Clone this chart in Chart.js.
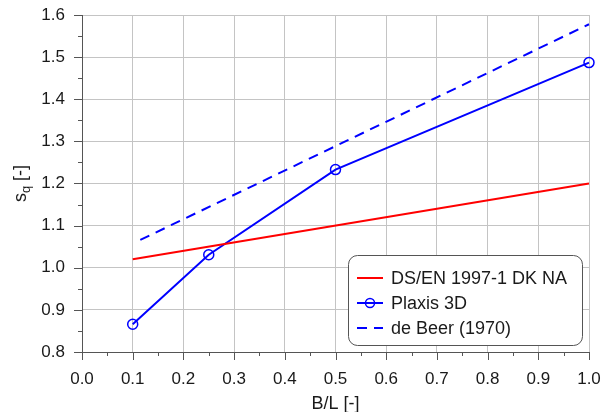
<!DOCTYPE html>
<html>
<head>
<meta charset="utf-8">
<script src="https://cdn.jsdelivr.net/npm/chart.js@4"></script>
<style>
  html, body { margin: 0; padding: 0; background: #fff; }
  #wrap { width: 612px; height: 412px; }
</style>
</head>
<body>
<div id="wrap"><canvas id="chart" width="612" height="412"></canvas></div>
<script>
// shape factor s_q against B/L
const dsenBL = [0.1, 1.0];
const dsenSq = [1.02, 1.2];

const plaxisBL = [0.1, 0.25, 0.5, 1.0];
const plaxisSq = [0.866, 1.031, 1.233, 1.487];

const deBeerBL = [0.115, 1.0];
const deBeerSq = [1.066, 1.578];

const seriesNames = ['DS/EN 1997-1 DK NA', 'Plaxis 3D', 'de Beer (1970)'];

const FONT = '"Liberation Sans", Arial, sans-serif';
const AXIS_COLOR = '#555';

function pts(xs, ys) {
  return xs.map((x, i) => ({x: x, y: ys[i]}));
}

// fixed axis box, no extra room for label overflow
function fixBox(s, prop, size) {
  s[prop] = size;
  s.paddingLeft = s.paddingRight = s.paddingTop = s.paddingBottom = 0;
}

// axis lines, major + minor ticks, y title with subscript, legend box
const decor = {
  id: 'decor',
  afterDraw(chart) {
    const ctx = chart.ctx;
    const a = chart.chartArea;
    const xs = chart.scales.x, ys = chart.scales.y;
    ctx.save();
    ctx.strokeStyle = AXIS_COLOR;
    ctx.lineWidth = 1;
    ctx.beginPath();
    ctx.moveTo(a.left + 0.5, a.top);
    ctx.lineTo(a.left + 0.5, a.bottom + 0.5);
    ctx.lineTo(a.right, a.bottom + 0.5);
    for (let i = 0; i <= 20; i++) {
      const len = i % 2 === 0 ? 8 : 4;
      const px = Math.round(xs.getPixelForValue(i * 0.05)) + 0.5;
      ctx.moveTo(px, a.bottom);
      ctx.lineTo(px, a.bottom + len);
    }
    for (let i = 0; i <= 16; i++) {
      const len = i % 2 === 0 ? 8 : 4;
      const py = Math.round(ys.getPixelForValue(0.8 + i * 0.05)) + 0.5;
      ctx.moveTo(a.left, py);
      ctx.lineTo(a.left - len, py);
    }
    ctx.stroke();

    // y title: s_q [-]
    ctx.fillStyle = '#1a1a1a';
    ctx.textBaseline = 'middle';
    ctx.translate(21, (a.top + a.bottom) / 2);
    ctx.rotate(-Math.PI / 2);
    const big = '18px ' + FONT, small = '13px ' + FONT;
    ctx.font = big;
    const w1 = ctx.measureText('s').width;
    const w3 = ctx.measureText(' [-]').width;
    ctx.font = small;
    const w2 = ctx.measureText('q').width;
    let x0 = -(w1 + w2 + w3) / 2;
    ctx.textAlign = 'left';
    ctx.font = big;
    ctx.fillText('s', x0, 0);
    ctx.font = small;
    ctx.fillText('q', x0 + w1, 5);
    ctx.font = big;
    ctx.fillText(' [-]', x0 + w1 + w2, 0);
    ctx.restore();

    // legend
    ctx.save();
    const bx = 348.5, by = 255.5, bw = 234, bh = 90, r = 9;
    ctx.beginPath();
    ctx.roundRect(bx, by, bw, bh, r);
    ctx.fillStyle = '#fff';
    ctx.fill();
    ctx.strokeStyle = AXIS_COLOR;
    ctx.lineWidth = 1;
    ctx.stroke();
    ctx.font = '18px ' + FONT;
    ctx.textBaseline = 'middle';
    ctx.fillStyle = '#1a1a1a';
    chart.data.datasets.forEach((d, i) => {
      const y = 278 + i * 25;
      ctx.strokeStyle = d.borderColor;
      ctx.lineWidth = 2;
      ctx.setLineDash(d.borderDash || []);
      ctx.beginPath();
      ctx.moveTo(357, y);
      ctx.lineTo(383, y);
      ctx.stroke();
      ctx.setLineDash([]);
      if (d.pointRadius) {
        ctx.lineWidth = 1.5;
        ctx.beginPath();
        ctx.arc(370, y, 4.5, 0, Math.PI * 2);
        ctx.stroke();
      }
      ctx.fillText(d.label, 391, y + 1);
    });
    ctx.restore();
  }
};

new Chart(document.getElementById('chart'), {
  type: 'line',
  data: {
    datasets: [
      {
        label: seriesNames[0],
        data: pts(dsenBL, dsenSq),
        borderColor: 'rgb(255,0,0)',
        borderWidth: 2,
        pointRadius: 0,
        clip: false
      },
      {
        label: seriesNames[1],
        data: pts(plaxisBL, plaxisSq),
        borderColor: 'rgb(0,0,255)',
        borderWidth: 2,
        pointRadius: 5,
        pointBorderWidth: 1.5,
        pointBackgroundColor: 'rgba(0,0,0,0)',
        pointBorderColor: 'rgb(0,0,255)',
        clip: false
      },
      {
        label: seriesNames[2],
        data: pts(deBeerBL, deBeerSq),
        borderColor: 'rgb(0,0,255)',
        borderWidth: 2,
        borderDash: [10, 7],
        pointRadius: 0,
        clip: false
      }
    ]
  },
  options: {
    responsive: false,
    animation: false,
    layout: { padding: { top: 15, right: 23, left: 0, bottom: 0 } },
    plugins: { legend: { display: false }, tooltip: { enabled: false } },
    scales: {
      x: {
        type: 'linear',
        min: 0, max: 1,
        afterFit(s) { fixBox(s, 'height', 60); },
        grid: { color: '#c4c4c4', drawTicks: false },
        border: { display: false },
        ticks: {
          stepSize: 0.1,
          padding: 17,
          color: '#1a1a1a',
          font: { family: FONT, size: 17 },
          maxRotation: 0,
          callback: v => v.toFixed(1)
        },
        title: {
          display: true,
          text: 'B/L [-]',
          color: '#1a1a1a',
          font: { family: FONT, size: 18 },
          padding: { top: 0, bottom: -3 }
        }
      },
      y: {
        type: 'linear',
        min: 0.8, max: 1.6,
        afterFit(s) { fixBox(s, 'width', 82); },
        grid: { color: '#c4c4c4', drawTicks: false },
        border: { display: false },
        ticks: {
          stepSize: 0.1,
          padding: 17,
          color: '#1a1a1a',
          font: { family: FONT, size: 17 },
          callback: v => v.toFixed(1)
        }
      }
    }
  },
  plugins: [decor]
});
</script>
</body>
</html>
